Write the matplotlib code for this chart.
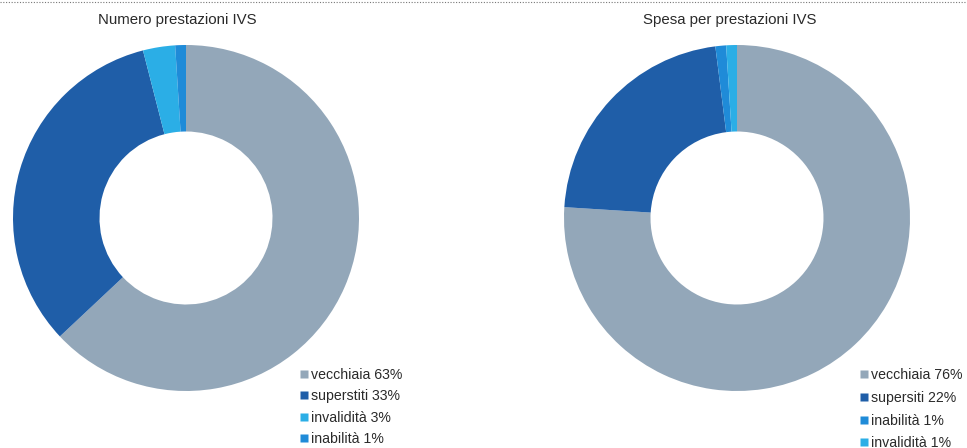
import matplotlib.pyplot as plt
from matplotlib.lines import Line2D

plt.rcParams['font.family'] = ['Liberation Sans', 'DejaVu Sans']

# Number of IVS benefits by type (%)
numero_labels = ["vecchiaia", "superstiti", "invalidità", "inabilità"]
numero_values = [63, 33, 3, 1]

# Expenditure on IVS benefits by type (%)
spesa_labels = ["vecchiaia", "supersiti", "inabilità", "invalidità"]
spesa_values = [76, 22, 1, 1]

titles = ["Numero prestazioni IVS", "Spesa per prestazioni IVS"]

palette = {
    "vecchiaia": "#93A7B9",
    "superstiti": "#1F5EA8",
    "supersiti": "#1F5EA8",
    "invalidità": "#2BAEE6",
    "inabilità": "#1F8BD8",
}

W, H = 967, 448
fig = plt.figure(figsize=(W / 100, H / 100), dpi=100)
TEXT = '#2a2a2a'


def px_axes(x0, y0, x1, y1):
    return fig.add_axes([x0 / W, 1 - y1 / H, (x1 - x0) / W, (y1 - y0) / H])


def donut(box, labels, values, title, title_x, legend_xy, spacing):
    ax = px_axes(*box)
    colors = [palette[l] for l in labels]
    ax.pie(values, colors=colors, startangle=90, counterclock=False,
           radius=1.0, wedgeprops=dict(width=0.5, linewidth=0))
    ax.set_xlim(-1, 1)
    ax.set_ylim(-1, 1)
    ax.set_aspect('equal')
    ax.axis('off')
    fig.text(title_x / W, 1 - 20 / H, title, ha='center', va='center',
             fontsize=10.8, color=TEXT)
    handles = [Line2D([], [], marker='s', linestyle='none', markersize=5.4,
                      markerfacecolor=c, markeredgecolor='none') for c in colors]
    leg_labels = [f"{l} {v}%" for l, v in zip(labels, values)]
    fig.legend(handles, leg_labels, loc='upper left',
               bbox_to_anchor=(legend_xy[0] / W, 1 - legend_xy[1] / H),
               frameon=False, fontsize=10.2, handlelength=0.55,
               handletextpad=0.2, labelspacing=spacing, borderpad=0,
               borderaxespad=0, labelcolor=TEXT)


donut((13, 45, 359, 391), numero_labels, numero_values, titles[0], 177.5,
      (300, 368), 0.52)
donut((564, 45, 910, 391), spesa_labels, spesa_values, titles[1], 730,
      (860, 368), 0.62)

# dotted rule along the top edge
fig.add_artist(Line2D([0, 1], [1 - 2 / H, 1 - 2 / H], transform=fig.transFigure,
                      color='#777777', linestyle=(0, (1, 1.5)), linewidth=0.8))

fig.savefig("out.png", dpi=100)
